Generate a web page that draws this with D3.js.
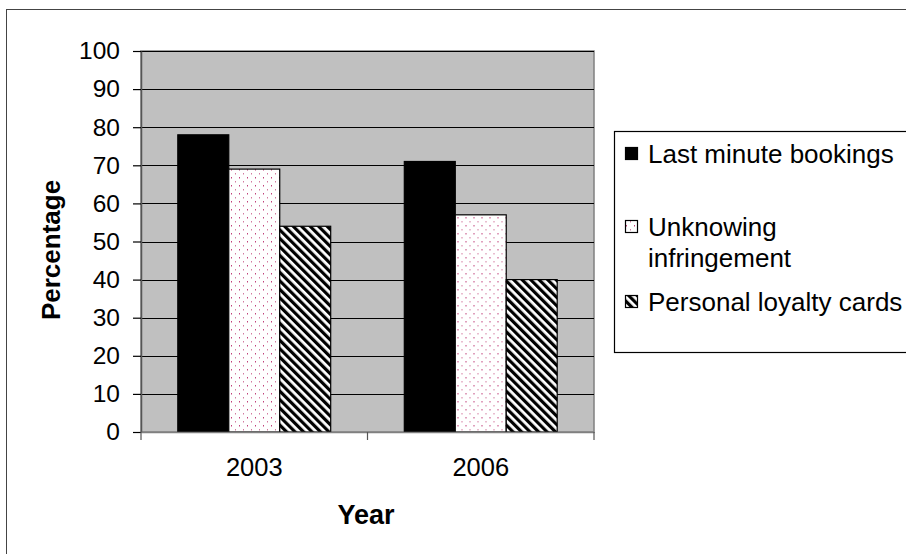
<!DOCTYPE html>
<html><head><meta charset="utf-8">
<script src="https://cdn.jsdelivr.net/npm/d3@7/dist/d3.min.js"></script>
<style>
body{margin:0;background:#fff}
svg{display:block}
text{font-family:"Liberation Sans",Arial,sans-serif;fill:#000}
</style>
</head><body>
<svg id="chart" width="906" height="554"></svg>
<script>
// ---- data ----
const years = ["2003", "2006"];
const seriesNames = ["Last minute bookings", "Unknowing infringement", "Personal loyalty cards"];
const legendLines = [["Last minute bookings"], ["Unknowing", "infringement"], ["Personal loyalty cards"]];
const lastMinuteBookings = [78, 71];
const unknowingInfringement = [69, 57];
const personalLoyaltyCards = [54, 40];
const yTickValues = [0, 10, 20, 30, 40, 50, 60, 70, 80, 90, 100];
const yTitle = "Percentage";
const xTitle = "Year";

const seriesValues = [lastMinuteBookings, unknowingInfringement, personalLoyaltyCards];

// ---- layout ----
const svg = d3.select("#chart");
const plot = {left: 141, right: 594, top: 51, bottom: 432};

const defs = svg.append("defs");
const dots = defs.append("pattern").attr("id", "dots").attr("patternUnits", "userSpaceOnUse")
  .attr("width", 8).attr("height", 8);
dots.append("rect").attr("width", 8).attr("height", 8).attr("fill", "#fff");
dots.append("rect").attr("x", 2).attr("y", 1).attr("width", 1).attr("height", 1.5).attr("fill", "#c0407a");
dots.append("rect").attr("x", 6).attr("y", 5).attr("width", 1).attr("height", 1.5).attr("fill", "#d27aa0");

const hatch = defs.append("pattern").attr("id", "hatch").attr("patternUnits", "userSpaceOnUse")
  .attr("width", 6).attr("height", 6).attr("patternTransform", "rotate(-45)");
hatch.append("rect").attr("width", 6).attr("height", 6).attr("fill", "#fff");
hatch.append("rect").attr("x", 0).attr("y", 0).attr("width", 3.2).attr("height", 6).attr("fill", "#000");

const fills = ["#000", "url(#dots)", "url(#hatch)"];

// outer frame
svg.append("rect").attr("x", 6.5).attr("y", 9.5).attr("width", 1000).attr("height", 1000)
  .attr("fill", "none").attr("stroke", "#444").attr("stroke-width", 1);

const x0 = d3.scaleBand().domain(years).range([plot.left, plot.right]).paddingInner(0).paddingOuter(0);
const groupW = x0.bandwidth() * 0.675;
const x1 = d3.scaleBand().domain(d3.range(seriesNames.length))
  .range([(x0.bandwidth() - groupW) / 2, (x0.bandwidth() + groupW) / 2]).padding(0);
const y = d3.scaleLinear().domain([0, 100]).range([plot.bottom, plot.top]);

// plot area
svg.append("rect").attr("x", plot.left).attr("y", plot.top)
  .attr("width", plot.right - plot.left).attr("height", plot.bottom - plot.top)
  .attr("fill", "#c0c0c0").attr("stroke", "#808080").attr("stroke-width", 1.5);

// gridlines
svg.append("g").selectAll("line").data(yTickValues.filter(d => d > 0)).join("line")
  .attr("x1", plot.left).attr("x2", plot.right)
  .attr("y1", d => Math.round(y(d)) + 0.5).attr("y2", d => Math.round(y(d)) + 0.5)
  .attr("stroke", "#000").attr("stroke-width", 1.2);

// bars
const groups = svg.append("g").selectAll("g").data(years).join("g")
  .attr("transform", d => `translate(${x0(d)},0)`);
groups.selectAll("rect").data((d, i) => seriesValues.map((s, k) => ({k, v: s[i]}))).join("rect")
  .attr("x", d => x1(d.k)).attr("width", x1.bandwidth())
  .attr("y", d => y(d.v)).attr("height", d => y(0) - y(d.v))
  .attr("fill", d => fills[d.k]).attr("stroke", "#000").attr("stroke-width", 1.2);

// y axis
const yAxis = d3.axisLeft(y).tickValues(yTickValues).tickSize(8).tickPadding(13).tickSizeOuter(0);
const gy = svg.append("g").attr("transform", `translate(${plot.left},0)`).call(yAxis);
gy.select(".domain").attr("stroke", "#555").attr("stroke-width", 1.5);
gy.selectAll(".tick line").attr("stroke", "#000").attr("stroke-width", 1.2);
gy.selectAll(".tick text").attr("font-size", 24.5).attr("font-family", "Liberation Sans, Arial, sans-serif").attr("fill", "#000");

// x axis
const xAxis = d3.axisBottom(x0).tickSize(0).tickPadding(26);
const gx = svg.append("g").attr("transform", `translate(0,${plot.bottom})`).call(xAxis);
gx.select(".domain").attr("stroke", "#808080").attr("stroke-width", 1.5);
gx.selectAll(".tick text").attr("font-size", 25.5).attr("font-family", "Liberation Sans, Arial, sans-serif").attr("fill", "#000");
const xBoundaries = [plot.left, ...years.map(d => x0(d) + x0.bandwidth())];
gx.append("g").selectAll("line").data(xBoundaries).join("line")
  .attr("x1", d => d).attr("x2", d => d).attr("y1", 0).attr("y2", 8)
  .attr("stroke", "#555").attr("stroke-width", 1.2);

// titles
svg.append("text").attr("x", 366).attr("y", 524)
  .attr("text-anchor", "middle").attr("font-weight", "bold").attr("font-size", 27).text(xTitle);
svg.append("text").attr("transform", `translate(60,250) rotate(-90)`)
  .attr("text-anchor", "middle").attr("font-weight", "bold").attr("font-size", 26).text(yTitle);

// legend
svg.append("rect").attr("x", 614.5).attr("y", 131.5).attr("width", 400).attr("height", 221)
  .attr("fill", "#fff").attr("stroke", "#000").attr("stroke-width", 1.2);
const legendBaselines = [[163], [236, 267], [311]];
const lg = svg.append("g").selectAll("g").data(seriesNames).join("g");
lg.append("rect").attr("x", 625.5).attr("y", (d, i) => legendBaselines[i][0] - 15.5)
  .attr("width", 12).attr("height", 12).attr("fill", (d, i) => fills[i])
  .attr("stroke", "#000").attr("stroke-width", 1.2);
lg.each(function(d, i) {
  d3.select(this).selectAll("text").data(legendLines[i]).join("text")
    .attr("x", 648).attr("y", (t, j) => legendBaselines[i][j])
    .attr("font-size", 26).text(t => t);
});
</script>
</body></html>
